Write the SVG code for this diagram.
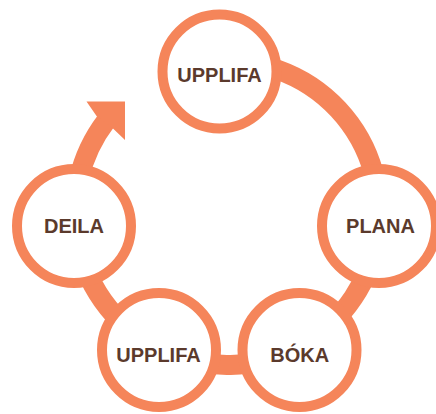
<svg xmlns="http://www.w3.org/2000/svg" width="436" height="414" viewBox="0 0 436 414">
  <style>
    .band { fill: none; stroke: #F5855A; stroke-width: 20; stroke-linecap: butt; }
    .head { fill: #F5855A; }
    .node circle { fill: #FFFFFF; stroke: #F5855A; stroke-width: 10; }
    .node text { font-family: "Liberation Sans", Arial, sans-serif; font-weight: bold; font-size: 20px; fill: #5B3A2C; text-anchor: middle; }
  </style>
  <rect width="436" height="414" fill="#FFFFFF"/>
  <g id="connectors">
    <path class="band" d="M 213.75 61.58 A 152 152 0 1 1 106.4 120.5"/>
    <polygon class="head" points="86.5,101.5 125,101.5 125,140 113,128.4 96.9,116.4"/>
  </g>
  <g id="node-upplifa-top" class="node">
    <circle cx="219.5" cy="71.5" r="57"/>
    <text x="219.5" y="82">UPPLIFA</text>
  </g>
  <g id="node-plana" class="node">
    <circle cx="379" cy="226" r="57"/>
    <text x="380.5" y="232.5">PLANA</text>
  </g>
  <g id="node-boka" class="node">
    <circle cx="299.5" cy="350" r="57"/>
    <text x="299.7" y="361.5">BÓKA</text>
  </g>
  <g id="node-upplifa-bottom" class="node">
    <circle cx="159" cy="350" r="57"/>
    <text x="158.5" y="361.5">UPPLIFA</text>
  </g>
  <g id="node-deila" class="node">
    <circle cx="74" cy="226" r="57"/>
    <text x="74" y="233">DEILA</text>
  </g>
</svg>
